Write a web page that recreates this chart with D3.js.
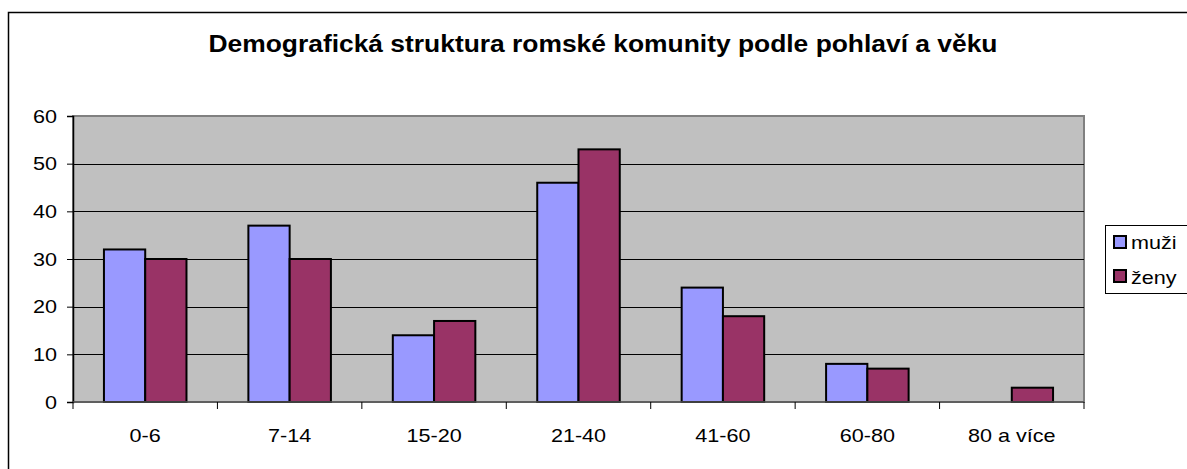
<html>
<script src="https://d3js.org/d3.v7.min.js"></script>
<style>
  body { margin: 0; background: #fff; }
  text { font-family: "Liberation Sans", Arial, sans-serif; fill: #000; }
</style>
<body>
<svg id="chart" width="1187" height="469"></svg>
<script>
var categories = ["0-6", "7-14", "15-20", "21-40", "41-60", "60-80", "80 a více"];
var seriesNames = ["muži", "ženy"];
var muzi = [32, 37, 14, 46, 24, 8, 0];
var zeny = [30, 30, 17, 53, 18, 7, 3];
var yTicks = [0, 10, 20, 30, 40, 50, 60];
var colors = ["#9999ff", "#993366"];

var svg = d3.select("#chart");
var plot = { left: 73, right: 1084, top: 116, bottom: 402 };
var stretch = 1.2;

// outer chart border (runs off the picture at right and bottom)
svg.append("rect")
  .attr("x", 8.5).attr("y", 12.5)
  .attr("width", 1200).attr("height", 500)
  .attr("fill", "#fff").attr("stroke", "#000").attr("stroke-width", 1.5);

svg.append("text")
  .attr("transform", "translate(603,52) scale(1.1,1)")
  .attr("text-anchor", "middle")
  .style("font-size", "24px").style("font-weight", "bold")
  .text("Demografická struktura romské komunity podle pohlaví a věku");

var x = d3.scaleBand().domain(categories).range([plot.left, plot.right]);
var xs = d3.scaleBand().domain(seriesNames).range([0, x.bandwidth()]).paddingOuter(0.75);
var y = d3.scaleLinear().domain([0, 60]).range([plot.bottom, plot.top]);

// plot background
svg.append("rect")
  .attr("x", plot.left).attr("y", plot.top)
  .attr("width", plot.right - plot.left).attr("height", plot.bottom - plot.top)
  .attr("fill", "#c0c0c0").attr("stroke", "#808080").attr("stroke-width", 2);

// gridlines
svg.append("g").selectAll("line")
  .data(yTicks.filter(function(d) { return d > 0 && d < 60; }))
  .enter().append("line")
  .attr("x1", plot.left).attr("x2", plot.right)
  .attr("y1", function(d) { return Math.round(y(d)) + 0.5; })
  .attr("y2", function(d) { return Math.round(y(d)) + 0.5; })
  .attr("stroke", "#000").attr("stroke-width", 1);

// bars
var rows = categories.map(function(c, i) { return { cat: c, vals: [muzi[i], zeny[i]] }; });
var groups = svg.append("g").selectAll("g").data(rows).enter().append("g")
  .attr("transform", function(d) { return "translate(" + x(d.cat) + ",0)"; });
groups.selectAll("rect")
  .data(function(d) { return d.vals.map(function(v, j) { return { s: seriesNames[j], v: v, j: j }; }); })
  .enter().filter(function(d) { return d.v > 0; }).append("rect")
  .attr("x", function(d) { return xs(d.s); })
  .attr("y", function(d) { return y(d.v); })
  .attr("width", xs.bandwidth())
  .attr("height", function(d) { return y(0) - y(d.v); })
  .attr("fill", function(d) { return colors[d.j]; })
  .attr("stroke", "#000").attr("stroke-width", 2);

// y axis
var yAxis = svg.append("g").attr("transform", "translate(" + plot.left + ",0)")
  .call(d3.axisLeft(y).tickValues(yTicks).tickSize(6).tickPadding(10));
yAxis.select(".domain").attr("stroke", "#000").attr("stroke-width", 1.5);
yAxis.selectAll("line").attr("stroke", "#000");
yAxis.selectAll("text")
  .style("font-size", "18px").attr("dy", "0.35em")
  .attr("transform", function() {
    var t = d3.select(this);
    return "translate(" + t.attr("x") + ",0) scale(" + stretch + ",1) translate(" + (-t.attr("x")) + ",0)";
  });

// x axis
var bounds = categories.map(function(c) { return x(c); }).concat([plot.right]);
var xAxis = svg.append("g").attr("transform", "translate(0," + plot.bottom + ")");
xAxis.append("line").attr("x1", plot.left).attr("x2", plot.right)
  .attr("stroke", "#555").attr("stroke-width", 1.5);
xAxis.selectAll(".tk").data(bounds).enter().append("line")
  .attr("x1", function(d) { return d; }).attr("x2", function(d) { return d; })
  .attr("y1", 0).attr("y2", 7).attr("stroke", "#000");
xAxis.selectAll(".lab").data(categories).enter().append("text")
  .attr("transform", function(d) { return "translate(" + (x(d) + x.bandwidth() / 2) + ",40) scale(" + stretch + ",1)"; })
  .attr("text-anchor", "middle").style("font-size", "18px")
  .text(function(d) { return d; });

// legend
var legend = svg.append("g").attr("transform", "translate(1105,225)");
legend.append("rect").attr("x", 0.5).attr("y", 0.5).attr("width", 90).attr("height", 68)
  .attr("fill", "#fff").attr("stroke", "#000").attr("stroke-width", 1);
seriesNames.forEach(function(s, i) {
  legend.append("rect").attr("x", 9).attr("y", 11 + i * 34).attr("width", 12).attr("height", 12)
    .attr("fill", colors[i]).attr("stroke", "#000").attr("stroke-width", 2);
  legend.append("text")
    .attr("transform", "translate(26," + (24 + i * 35) + ") scale(" + stretch + ",1)")
    .style("font-size", "18px").text(s);
});
</script>
</body>
</html>
